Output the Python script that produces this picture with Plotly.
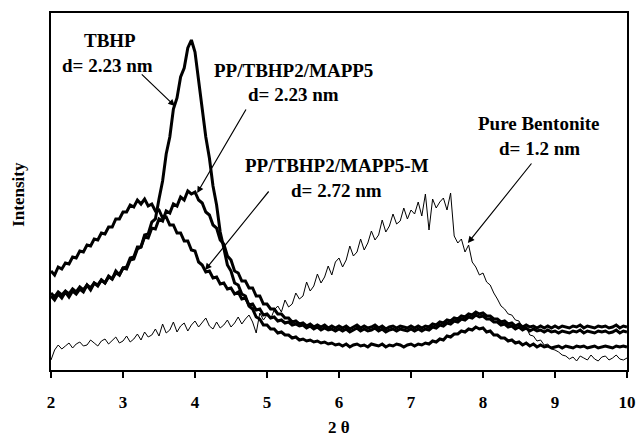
import plotly.graph_objects as go

# 2-theta scan grid (step 0.05 deg)
two_theta = [round(2 + 0.05 * i, 2) for i in range(161)]

tbhp = [
    74, 70, 76, 72, 78, 73, 79, 76, 81, 78, 85, 80, 87, 84, 90, 87, 94, 91, 99, 95,
    102, 101, 110, 111, 121, 123, 135, 136, 148, 151, 171, 189, 216, 233, 261, 272, 293, 302, 322, 330,
    318, 288, 264, 233, 212, 184, 165, 138, 122, 105, 99, 87, 85, 76, 74, 64, 61, 53, 51, 45,
    45, 41, 41, 37, 38, 35, 35, 32, 33, 30, 31, 29, 30, 28, 29, 27, 28, 26, 27, 25,
    26, 24, 26, 23, 25, 26, 24, 25, 23, 26, 25, 24, 26, 23, 25, 24, 26, 25, 23, 25,
    26, 24, 26, 25, 27, 26, 29, 28, 31, 30, 34, 33, 36, 36, 39, 38, 41, 40, 43, 41,
    42, 38, 39, 35, 35, 32, 32, 29, 30, 27, 28, 25, 27, 24, 26, 23, 25, 23, 24, 22,
    23, 24, 22, 24, 23, 22, 24, 23, 24, 22, 23, 24, 22, 23, 24, 23, 22, 24, 23, 24, 23,
]

mapp5 = [
    77, 73, 78, 75, 79, 76, 81, 78, 83, 80, 85, 82, 87, 85, 90, 87, 93, 91, 97, 95,
    102, 103, 112, 113, 123, 123, 133, 132, 142, 141, 151, 149, 159, 157, 166, 164, 173, 170, 179, 176,
    178, 170, 167, 158, 155, 145, 142, 130, 126, 114, 110, 99, 97, 89, 89, 82, 82, 74, 74, 66,
    66, 61, 61, 56, 56, 52, 52, 48, 49, 46, 47, 44, 46, 43, 45, 43, 45, 42, 44, 42,
    44, 42, 44, 41, 43, 45, 42, 44, 42, 43, 45, 42, 44, 41, 43, 44, 42, 44, 43, 42,
    44, 42, 44, 42, 44, 43, 46, 45, 48, 47, 50, 49, 52, 51, 54, 53, 56, 55, 58, 56,
    57, 54, 54, 51, 51, 48, 49, 46, 47, 44, 46, 43, 45, 43, 44, 42, 44, 42, 44, 42,
    44, 42, 44, 43, 42, 44, 43, 45, 42, 44, 43, 42, 44, 43, 44, 42, 43, 45, 42, 44, 43,
]

mapp5_m = [
    99, 95, 103, 101, 107, 106, 113, 112, 119, 118, 125, 124, 131, 130, 137, 136, 143, 143, 151, 151,
    158, 158, 165, 163, 170, 166, 171, 164, 166, 159, 160, 152, 153, 145, 145, 137, 137, 129, 129, 120,
    119, 108, 105, 98, 99, 92, 93, 86, 87, 81, 82, 76, 78, 71, 72, 65, 66, 60, 61, 55,
    56, 52, 53, 49, 50, 47, 48, 45, 46, 44, 45, 42, 44, 41, 43, 40, 42, 40, 41, 39,
    41, 39, 41, 38, 40, 42, 39, 41, 39, 40, 42, 39, 41, 38, 40, 41, 39, 41, 40, 39,
    41, 39, 41, 39, 41, 40, 43, 42, 45, 44, 47, 46, 49, 48, 51, 50, 53, 52, 55, 53,
    54, 51, 51, 48, 48, 45, 46, 43, 44, 41, 43, 40, 42, 39, 41, 39, 40, 38, 40, 38,
    39, 37, 39, 38, 37, 39, 38, 40, 37, 39, 38, 37, 39, 38, 39, 37, 38, 40, 37, 39, 38,
]

bentonite = [
    10, 20, 25, 21, 24, 27, 22, 26, 28, 24, 25, 30, 27, 24, 29, 31, 26, 30, 33, 27,
    29, 34, 28, 31, 36, 30, 38, 33, 35, 41, 34, 46, 37, 40, 48, 38, 44, 47, 39, 45,
    49, 43, 47, 52, 44, 41, 48, 42, 45, 50, 43, 47, 53, 46, 51, 55, 48, 37, 57, 50,
    55, 51, 60, 64, 58, 70, 63, 66, 77, 71, 74, 88, 79, 84, 96, 87, 93, 104, 95, 108,
    112, 103, 110, 124, 114, 118, 131, 120, 127, 139, 130, 135, 150, 138, 144, 156, 146, 149, 162, 151,
    160, 156, 168, 154, 176, 140, 171, 162, 168, 172, 160, 177, 134, 127, 131, 118, 125, 108, 103, 95,
    97, 88, 85, 77, 71, 64, 61, 56, 55, 50, 49, 42, 43, 35, 34, 29, 30, 25, 26, 21,
    20, 18, 15, 14, 11, 13, 9, 14, 12, 10, 15, 11, 9, 13, 14, 10, 12, 15, 11, 10, 12,
]

x_ticks = [2, 3, 4, 5, 6, 7, 8, 9, 10]

# label texts and positions (data coords)
labels = [
    ("<b>TBHP</b>", 2.82, 330),
    ("<b>d= 2.23 nm</b>", 2.79, 305),
    ("<b>PP/TBHP2/MAPP5</b>", 5.37, 300),
    ("<b>d= 2.23 nm</b>", 5.37, 276),
    ("<b>PP/TBHP2/MAPP5-M</b>", 5.97, 205),
    ("<b>d= 2.72 nm</b>", 5.96, 180),
    ("<b>Pure Bentonite</b>", 8.78, 247),
    ("<b>d= 1.2 nm</b>", 8.79, 222),
]
# arrows: (tail_x, tail_y, tip_x, tip_y)
arrows = [
    (3.24, 297, 3.72, 264),
    (4.72, 262, 4.03, 177),
    (5.04, 180, 4.14, 100),
    (8.69, 208, 7.79, 127),
]

SERIF = "Liberation Serif"

fig = go.Figure()
for ys, w in [(bentonite, 1.0), (tbhp, 3.0), (mapp5, 3.0), (mapp5_m, 3.0)]:
    fig.add_trace(go.Scatter(x=two_theta, y=ys, mode="lines",
                             line=dict(color="black", width=w), showlegend=False))

ann = []
for t, x, y in labels:
    ann.append(dict(x=x, y=y, xref="x", yref="y", text=t, showarrow=False,
                    font=dict(family=SERIF, size=19, color="black")))
for tx, ty, hx, hy in arrows:
    ann.append(dict(x=hx, y=hy, ax=tx, ay=ty, xref="x", yref="y", axref="x", ayref="y",
                    text="", showarrow=True, arrowhead=2, arrowsize=1.1, arrowwidth=1.2,
                    arrowcolor="black", standoff=0, startstandoff=0))
ann.append(dict(x=0.5, y=-0.16, xref="paper", yref="paper", text="<b>2 θ</b>",
                showarrow=False, font=dict(family=SERIF, size=17, color="black"),
                yanchor="middle"))
ann.append(dict(x=-0.056, y=0.493, xref="paper", yref="paper", text="<b>Intensity</b>",
                showarrow=False, textangle=-90, font=dict(family=SERIF, size=17, color="black"),
                xanchor="center", yanchor="middle"))

fig.update_layout(
    width=637, height=437,
    margin=dict(l=51, r=10, t=13, b=67),
    plot_bgcolor="white", paper_bgcolor="white",
    annotations=ann,
    xaxis=dict(range=[2, 10], tickvals=x_ticks, ticktext=[f"<b>{v}</b>" for v in x_ticks],
               ticks="outside", ticklen=6, tickwidth=1.5, tickcolor="black",
               showline=True, linecolor="black", linewidth=2, mirror=True,
               showgrid=False, zeroline=False, ticklabelstandoff=10, automargin=False,
               tickfont=dict(family=SERIF, size=17, color="black")),
    yaxis=dict(range=[0, 357], showticklabels=False, ticks="", automargin=False,
               showline=True, linecolor="black", linewidth=2, mirror=True,
               showgrid=False, zeroline=False),
)

fig.write_html("out.html")
